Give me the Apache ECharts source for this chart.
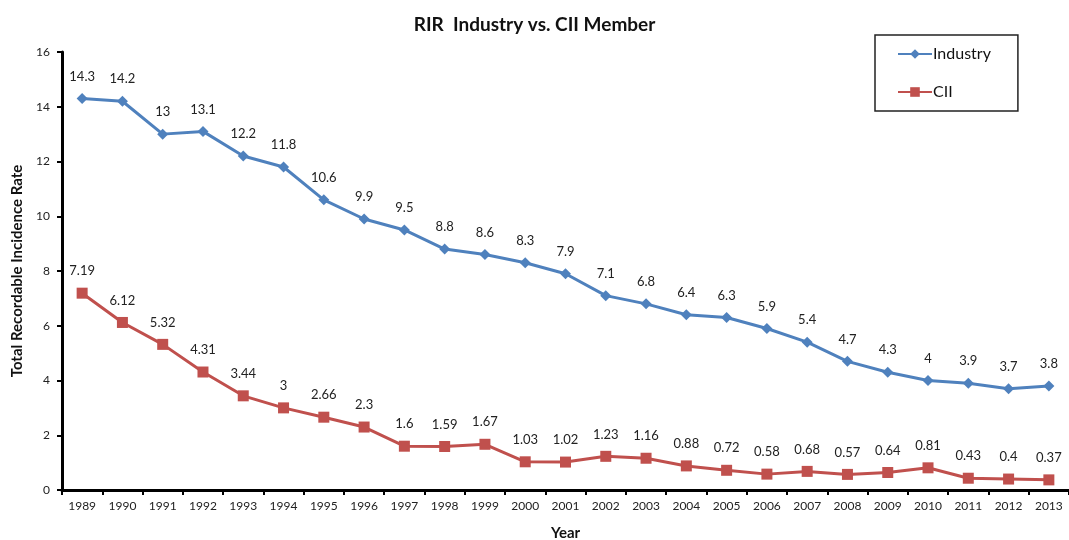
<!DOCTYPE html>
<html><head><meta charset="utf-8">
<script src="https://cdn.jsdelivr.net/npm/echarts@6/dist/echarts.min.js"></script>
<style>html,body{margin:0;padding:0;background:#fff}#c{width:1069px;height:540px}</style>
</head><body><div id="c"></div>
<script>
const years = ['1989','1990','1991','1992','1993','1994','1995','1996','1997','1998','1999','2000','2001','2002','2003','2004','2005','2006','2007','2008','2009','2010','2011','2012','2013'];
const industry = [14.3,14.2,13,13.1,12.2,11.8,10.6,9.9,9.5,8.8,8.6,8.3,7.9,7.1,6.8,6.4,6.3,5.9,5.4,4.7,4.3,4,3.9,3.7,3.8];
const cii = [7.19,6.12,5.32,4.31,3.44,3,2.66,2.3,1.6,1.59,1.67,1.03,1.02,1.23,1.16,0.88,0.72,0.58,0.68,0.57,0.64,0.81,0.43,0.4,0.37];
const yTicks = [0,2,4,6,8,10,12,14,16];

const font = 'Lato, "Open Sans", sans-serif';
const chart = echarts.init(document.getElementById('c'));
chart.setOption({
  backgroundColor: '#fff',
  animation: false,
  textStyle: {fontFamily: font},
  title: {
    text: 'RIR  Industry vs. CII Member',
    left: 'center', top: 10,
    textStyle: {fontFamily: font, fontSize: 19, fontWeight: 'bold', color: '#111'}
  },
  legend: {
    orient: 'vertical',
    left: 875, top: 35,
    padding: [11, 27, 11, 22],
    itemGap: 22,
    itemWidth: 34, itemHeight: 12,
    borderColor: '#222', borderWidth: 1.5,
    textStyle: {fontFamily: font, fontSize: 16, color: '#111', padding: [0,0,0,-4]},
    data: ['Industry', 'CII']
  },
  grid: {left: 62, right: 0, top: 52, bottom: 50, containLabel: false, outerBoundsMode: 'none'},
  xAxis: {
    type: 'category',
    data: years,
    boundaryGap: true,
    name: 'Year', nameLocation: 'middle', nameGap: 36,
    nameTextStyle: {fontFamily: font, fontSize: 15, fontWeight: 'bold', color: '#111'},
    axisLine: {lineStyle: {color: '#000', width: 3}},
    axisTick: {show: true, length: 5, lineStyle: {color: '#000', width: 2}},
    axisLabel: {fontFamily: font, fontSize: 12, color: '#222', margin: 10}
  },
  yAxis: {
    type: 'value',
    min: 0, max: 16, interval: 2,
    name: 'Total Recordable Incidence Rate', nameLocation: 'middle', nameGap: 37,
    nameTextStyle: {fontFamily: font, fontSize: 15, fontWeight: 'bold', color: '#111'},
    axisLine: {show: true, lineStyle: {color: '#000', width: 3}},
    axisTick: {show: true, length: 5, lineStyle: {color: '#000', width: 2}},
    axisLabel: {fontFamily: font, fontSize: 12, color: '#222', margin: 12,
      formatter: v => yTicks.includes(v) ? String(v) : ''},
    splitLine: {show: false}
  },
  series: [
    {
      name: 'Industry', type: 'line', data: industry,
      symbol: 'diamond', symbolSize: 11,
      lineStyle: {color: '#4F81BD', width: 3},
      itemStyle: {color: '#4F81BD'},
      label: {show: true, position: 'top', distance: 10, fontFamily: font, fontSize: 13, color: '#222'}
    },
    {
      name: 'CII', type: 'line', data: cii,
      symbol: 'rect', symbolSize: 11,
      lineStyle: {color: '#C0504D', width: 3},
      itemStyle: {color: '#C0504D'},
      label: {show: true, position: 'top', distance: 10, fontFamily: font, fontSize: 13, color: '#222'}
    }
  ]
});
</script>
</body></html>
